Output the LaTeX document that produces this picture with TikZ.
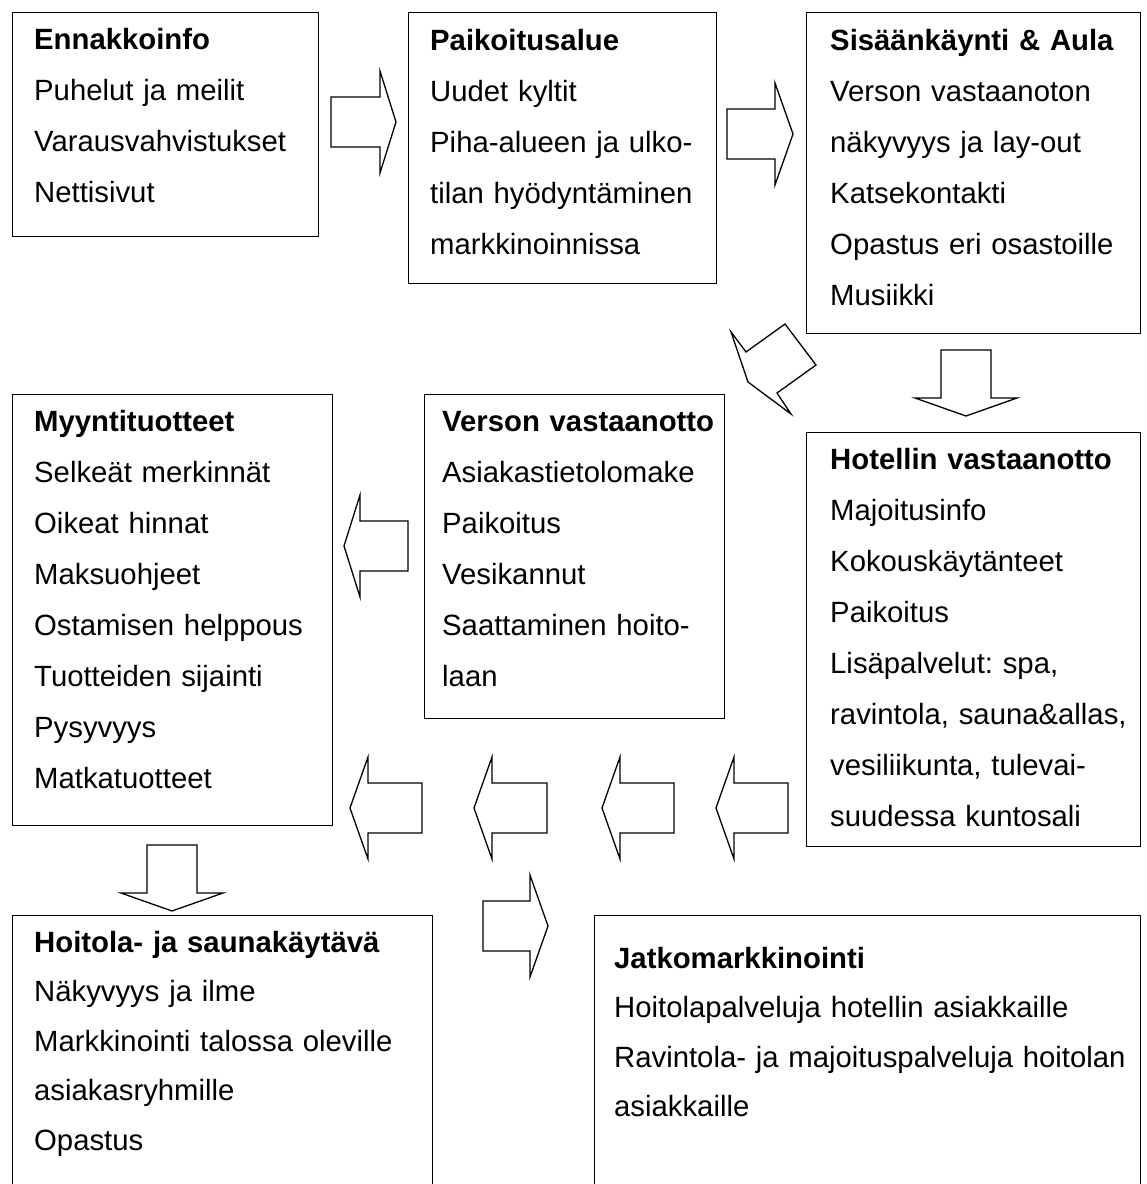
\documentclass[tikz,border=0pt]{standalone}
\usepackage{fontspec}
\setmainfont{Liberation Sans}
\usetikzlibrary{calc}
\tikzset{
  box/.style={draw, line width=1.3pt, rectangle, inner sep=0pt, anchor=north west},
  txt/.style={anchor=base west, inner sep=0pt, text width=600pt, align=left, font=\fontsize{29.3}{51}\selectfont\frenchspacing},
  txtb/.style={txt, font=\fontsize{29.3}{49.5}\selectfont\frenchspacing},
  pics/barrow/.style n args={2}{code={
    \draw[line width=1.3pt, line join=miter] (0,-25) -- (#1,-25) -- (#1,-51) -- (#1+#2,0) -- (#1,51) -- (#1,25) -- (0,25) -- cycle;
  }}
}
\begin{document}
\begin{tikzpicture}[x=1pt,y=-1pt]
\useasboundingbox (0,0) rectangle (1147,1184);
% boxes
\node[box, minimum width=306pt, minimum height=224pt] (b1) at (12,12) {};
\node[box, minimum width=308pt, minimum height=271pt] (b2) at (408,12) {};
\node[box, minimum width=334pt, minimum height=321pt] (b3) at (806,12) {};
\node[box, minimum width=320pt, minimum height=431pt] (b4) at (12,394) {};
\node[box, minimum width=300pt, minimum height=324pt] (b5) at (424,394) {};
\node[box, minimum width=334pt, minimum height=414pt] (b6) at (806,432) {};
\node[box, minimum width=420pt, minimum height=300pt] (b7) at (12,915) {};
\node[box, minimum width=546pt, minimum height=300pt] (b8) at (594,915) {};
% texts
\node[txt] (t1) at (34,49) {\textbf{Ennakkoinfo}\\Puhelut ja meilit\\Varausvahvistukset\\Nettisivut};
\node[txt] (t2) at (430,50) {\textbf{Paikoitusalue}\\Uudet kyltit\\Piha-alueen ja ulko-\\tilan hyödyntäminen\\markkinoinnissa};
\node[txt] (t3) at (830,50) {\textbf{Sisäänkäynti \& Aula}\\Verson vastaanoton\\näkyvyys ja lay-out\\Katsekontakti\\Opastus eri osastoille\\Musiikki};
\node[txt] (t4) at (34,431) {\textbf{Myyntituotteet}\\Selkeät merkinnät\\Oikeat hinnat\\Maksuohjeet\\Ostamisen helppous\\Tuotteiden sijainti\\Pysyvyys\\Matkatuotteet};
\node[txt] (t5) at (442,431) {\textbf{Verson vastaanotto}\\Asiakastietolomake\\Paikoitus\\Vesikannut\\Saattaminen hoito-\\laan};
\node[txt] (t6) at (830,469) {\textbf{Hotellin vastaanotto}\\Majoitusinfo\\Kokouskäytänteet\\Paikoitus\\Lisäpalvelut: spa,\\ravintola, sauna\&allas,\\vesiliikunta, tulevai-\\suudessa kuntosali};
\node[txtb] (t7) at (34,952) {\textbf{Hoitola- ja saunakäytävä}\\Näkyvyys ja ilme\\Markkinointi talossa oleville\\asiakasryhmille\\Opastus};
\node[txtb] (t8) at (614,968) {\textbf{Jatkomarkkinointi}\\Hoitolapalveluja hotellin asiakkaille\\Ravintola- ja majoituspalveluja hoitolan\\asiakkaille};
% block arrows
\pic at (331,122) {barrow={49}{16}};
\pic at (727,134) {barrow={48}{18}};
\pic[rotate=-90] at (966,350) {barrow={48}{18}};
\pic[rotate=180] at (408,546) {barrow={48}{16}};
\pic[rotate=180] at (422,808) {barrow={54}{18}};
\pic[rotate=180] at (547,808) {barrow={55}{18}};
\pic[rotate=180] at (674,808) {barrow={54}{18}};
\pic[rotate=180] at (788,808) {barrow={54}{18}};
\pic[rotate=-90] at (172,845) {barrow={48}{18}};
\pic at (483,926) {barrow={47}{18}};
\draw[line width=1.3pt, line join=miter] (731,332) -- (746,352) -- (785,324) -- (816,365) -- (777,393) -- (791,414) -- (748,382) -- cycle;
\end{tikzpicture}
\end{document}
